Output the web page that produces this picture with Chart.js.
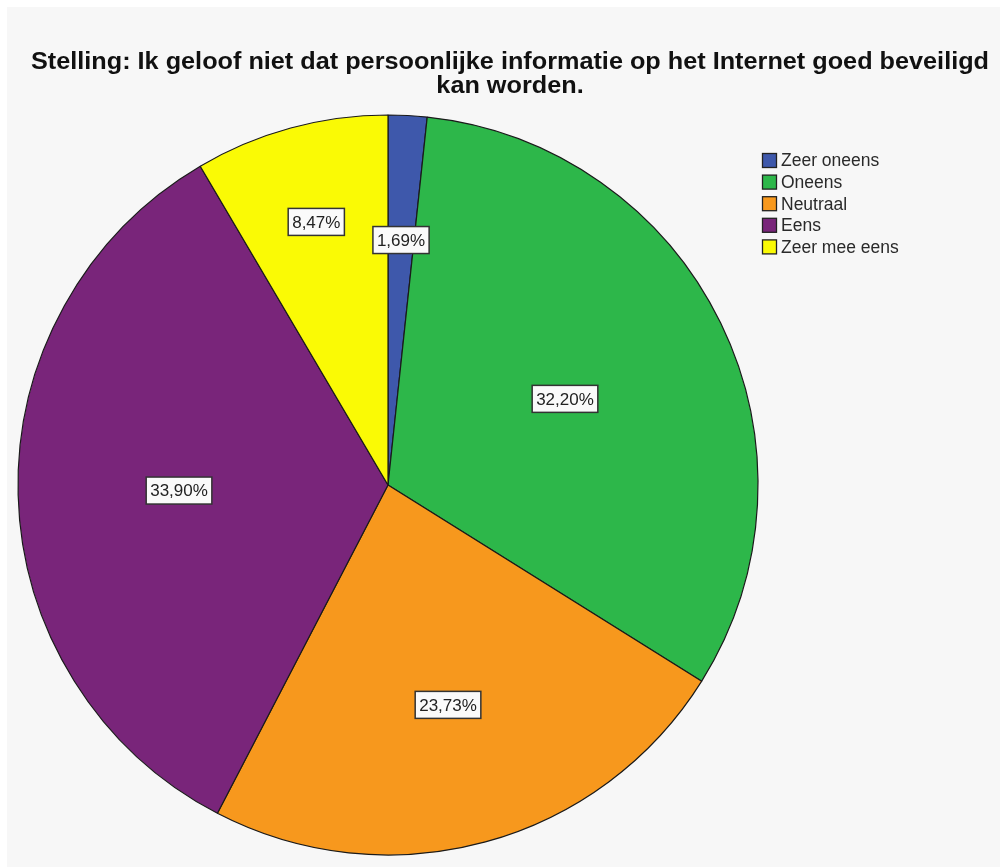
<!DOCTYPE html>
<html>
<head>
<meta charset="utf-8">
<script src="https://cdn.jsdelivr.net/npm/chart.js@4/dist/chart.umd.min.js"></script>
<style>
  html, body { margin: 0; padding: 0; background: #ffffff; }
  #wrap { position: relative; width: 1000px; height: 867px; }
  canvas { display: block; }
</style>
</head>
<body>
<div id="wrap"><canvas id="c" width="1000" height="867"></canvas></div>
<script>
const titleLines = ["Stelling: Ik geloof niet dat persoonlijke informatie op het Internet goed beveiligd", "kan worden."];
const categories = ["Zeer oneens", "Oneens", "Neutraal", "Eens", "Zeer mee eens"];
const percentages = [1.69, 32.20, 23.73, 33.90, 8.47];
const valueLabels = ["1,69%", "32,20%", "23,73%", "33,90%", "8,47%"];
const sliceColors = ["#3e58ab", "#2db74a", "#f7981d", "#79257a", "#fafa05"];
const labelRadiusFrac = [0.663, 0.532, 0.616, 0.565, 0.737];

const decor = {
  id: 'decor',
  beforeDraw(chart) {
    const ctx = chart.ctx;
    ctx.save();
    ctx.fillStyle = '#f7f7f7';
    ctx.fillRect(7, 7, 993, 860);
    ctx.restore();
  },
  afterDraw(chart) {
    const ctx = chart.ctx;
    ctx.save();
    // Title (slightly widened to match the reference face)
    ctx.fillStyle = '#111111';
    ctx.font = 'bold 23px "Liberation Sans", Arial, sans-serif';
    ctx.textBaseline = 'alphabetic';
    ctx.textAlign = 'center';
    const w0 = ctx.measureText(titleLines[0]).width;
    const sx = 958 / w0;
    ctx.save();
    ctx.translate(510, 0);
    ctx.scale(sx, 1);
    ctx.fillText(titleLines[0], 0, 69);
    ctx.fillText(titleLines[1], 0, 93);
    ctx.restore();

    // Legend
    ctx.font = '17.5px "Liberation Sans", Arial, sans-serif';
    ctx.textAlign = 'left';
    ctx.textBaseline = 'middle';
    categories.forEach((cat, i) => {
      const cy = 160.5 + i * 21.6;
      ctx.fillStyle = sliceColors[i];
      ctx.fillRect(762.5, cy - 7, 14, 14);
      ctx.strokeStyle = '#222222';
      ctx.lineWidth = 1.3;
      ctx.strokeRect(762.5, cy - 7, 14, 14);
      ctx.fillStyle = '#2a2a2a';
      ctx.fillText(cat, 781, cy + 1);
    });

    // Value labels
    const meta = chart.getDatasetMeta(0);
    ctx.font = '17px "Liberation Sans", Arial, sans-serif';
    ctx.textAlign = 'center';
    meta.data.forEach((arc, i) => {
      const p = arc.getProps(['x', 'y', 'startAngle', 'endAngle', 'outerRadius'], true);
      const mid = (p.startAngle + p.endAngle) / 2;
      const r = p.outerRadius * labelRadiusFrac[i];
      const x = p.x + Math.cos(mid) * r;
      const y = p.y + Math.sin(mid) * r;
      const txt = valueLabels[i];
      const w = ctx.measureText(txt).width + 8;
      const h = 27;
      ctx.fillStyle = '#fafafa';
      ctx.fillRect(x - w / 2, y - h / 2, w, h);
      ctx.strokeStyle = '#333333';
      ctx.lineWidth = 1.5;
      ctx.strokeRect(x - w / 2, y - h / 2, w, h);
      ctx.fillStyle = '#222222';
      ctx.fillText(txt, x, y + 1);
    });
    ctx.restore();
  }
};

new Chart(document.getElementById('c'), {
  type: 'pie',
  data: {
    labels: categories,
    datasets: [{
      data: percentages,
      backgroundColor: sliceColors,
      borderColor: '#1a1a1a',
      borderWidth: 1.2,
      borderAlign: 'center'
    }]
  },
  options: {
    responsive: false,
    animation: false,
    devicePixelRatio: 1,
    rotation: 0,
    radius: 370,
    layout: { padding: { left: 18, right: 242, top: 115, bottom: 12 } },
    plugins: {
      legend: { display: false },
      title: { display: false },
      tooltip: { enabled: false }
    }
  },
  plugins: [decor]
});
</script>
</body>
</html>
